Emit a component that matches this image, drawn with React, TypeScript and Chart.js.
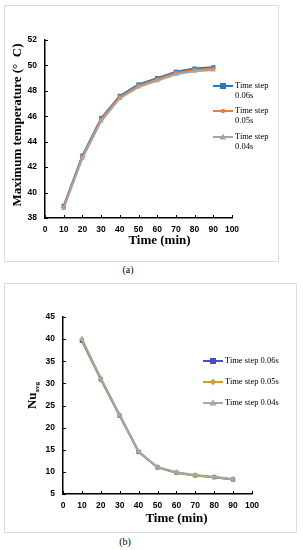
import React, { useEffect, useRef } from "react";
import { Chart, registerables } from "chart.js";

Chart.register(...registerables);

// ---------- data ----------
const TIME_MIN = [10, 20, 30, 40, 50, 60, 70, 80, 90];
const SERIES_LABELS = ["Time step 0.06s", "Time step 0.05s", "Time step 0.04s"];

const TEMP_STEP_006 = [38.95, 42.9, 45.85, 47.6, 48.5, 49.0, 49.5, 49.75, 49.85];
const TEMP_STEP_005 = [38.85, 42.8, 45.75, 47.5, 48.4, 48.9, 49.4, 49.65, 49.75];
const TEMP_STEP_004 = [38.75, 42.7, 45.6, 47.4, 48.3, 48.8, 49.3, 49.55, 49.65];

const NU_STEP_006 = [39.6, 30.9, 22.7, 14.5, 11.0, 9.8, 9.2, 8.8, 8.3];
const NU_STEP_005 = [39.8, 31.0, 22.8, 14.6, 11.0, 9.8, 9.2, 8.8, 8.3];
const NU_STEP_004 = [40.1, 31.2, 22.9, 14.6, 11.1, 9.9, 9.3, 8.9, 8.4];

const TEMP_Y_MIN = 38;
const TEMP_Y_MAX = 52;
const TEMP_Y_STEP = 2;
const NU_Y_MIN = 5;
const NU_Y_MAX = 45;
const NU_Y_STEP = 5;
const X_MIN = 0;
const X_MAX = 100;
const X_STEP = 10;

// ---------- helpers ----------
const toPoints = (ys: number[]) => TIME_MIN.map((x, i) => ({ x, y: ys[i] }));

function drawMarker(ctx: CanvasRenderingContext2D, style: string, x: number, y: number, r: number, color: string) {
  ctx.save();
  ctx.fillStyle = color;
  ctx.strokeStyle = color;
  ctx.beginPath();
  if (style === "rect") {
    ctx.rect(x - r, y - r, 2 * r, 2 * r);
  } else if (style === "rectRot") {
    ctx.moveTo(x, y - r * 1.3);
    ctx.lineTo(x + r * 1.3, y);
    ctx.lineTo(x, y + r * 1.3);
    ctx.lineTo(x - r * 1.3, y);
    ctx.closePath();
  } else if (style === "triangle") {
    ctx.moveTo(x, y - r * 1.2);
    ctx.lineTo(x + r * 1.1, y + r * 0.8);
    ctx.lineTo(x - r * 1.1, y + r * 0.8);
    ctx.closePath();
  } else {
    ctx.arc(x, y, r, 0, Math.PI * 2);
  }
  ctx.fill();
  ctx.restore();
}

const decorPlugin = {
  id: "decor",
  afterDraw(chart: any, _args: any, opts: any) {
    const ctx: CanvasRenderingContext2D = chart.ctx;
    const ca = chart.chartArea;
    const xs = chart.scales.x;
    const ys = chart.scales.y;
    ctx.save();
    // inner tick marks
    ctx.strokeStyle = "#000";
    ctx.lineWidth = 1;
    xs.ticks.forEach((t: any) => {
      const px = Math.round(xs.getPixelForValue(t.value)) + 0.5;
      ctx.beginPath();
      ctx.moveTo(px, ca.bottom);
      ctx.lineTo(px, ca.bottom - 3);
      ctx.stroke();
    });
    ys.ticks.forEach((t: any) => {
      const py = Math.round(ys.getPixelForValue(t.value)) + 0.5;
      ctx.beginPath();
      ctx.moveTo(ca.left, py);
      ctx.lineTo(ca.left + 3, py);
      ctx.stroke();
    });

    // x title
    ctx.fillStyle = "#000";
    ctx.font = 'bold 13px "Liberation Serif"';
    ctx.textAlign = "center";
    ctx.textBaseline = "middle";
    ctx.fillText(opts.xTitle, (ca.left + ca.right) / 2 + opts.xTitleShift, ca.bottom + opts.xTitleGap);

    // y title (rotated)
    ctx.save();
    ctx.translate(opts.yTitleX, (ca.top + ca.bottom) / 2 + opts.yTitleShift);
    ctx.rotate(-Math.PI / 2);
    ctx.textBaseline = "middle";
    ctx.font = `bold ${opts.yTitleSize}px "Liberation Serif"`;
    const mainW = ctx.measureText(opts.yTitle).width;
    let subW = 0;
    if (opts.yTitleSub) {
      ctx.font = 'bold 7px "Liberation Serif"';
      subW = ctx.measureText(opts.yTitleSub).width;
    }
    const total = mainW + subW;
    ctx.textAlign = "left";
    ctx.font = `bold ${opts.yTitleSize}px "Liberation Serif"`;
    ctx.fillText(opts.yTitle, -total / 2, 0);
    if (opts.yTitleSub) {
      ctx.font = 'bold 7px "Liberation Serif"';
      ctx.fillText(opts.yTitleSub, -total / 2 + mainW, 4);
    }
    ctx.restore();

    // legend
    chart.data.datasets.forEach((ds: any, i: number) => {
      const y = opts.legendY[i];
      const x0 = opts.legendLineX0;
      const x1 = opts.legendLineX1;
      ctx.strokeStyle = ds.borderColor;
      ctx.lineWidth = 2;
      ctx.beginPath();
      ctx.moveTo(x0, y);
      ctx.lineTo(x1, y);
      ctx.stroke();
      drawMarker(ctx, ds.pointStyle, (x0 + x1) / 2, y, ds.pointRadius, ds.pointBackgroundColor);
      ctx.fillStyle = "#000";
      ctx.font = '8.5px "Liberation Serif"';
      ctx.textAlign = "left";
      ctx.textBaseline = "middle";
      const lines: string[] = opts.legendLines[i];
      lines.forEach((ln, k) => ctx.fillText(ln, opts.legendTextX, y + k * 10));
    });
    ctx.restore();
  },
};

function makeDataset(label: string, ys: number[], color: string, pointStyle: string, r: number, order: number) {
  return {
    label,
    data: toPoints(ys),
    borderColor: color,
    backgroundColor: color,
    pointBackgroundColor: color,
    pointBorderColor: color,
    pointStyle,
    pointRadius: r,
    pointBorderWidth: 0,
    borderWidth: 2,
    tension: 0,
    order,
  };
}

function axisConfig(min: number, max: number, step: number, fixedSize: number, isX: boolean, padding: number) {
  return {
    type: "linear",
    min,
    max,
    ticks: {
      stepSize: step,
      color: "#000",
      padding,
      autoSkip: false,
      maxRotation: 0,
      minRotation: 0,
      font: { family: '"Liberation Sans"', size: 8.5, weight: "bold" },
    },
    grid: { display: false, drawTicks: false },
    border: { display: true, color: "#000", width: 1.5 },
    afterFit: (scale: any) => {
      if (isX) scale.height = fixedSize;
      else scale.width = fixedSize;
    },
  };
}

function ChartCanvas({ config, style }: { config: any; style: React.CSSProperties }) {
  const ref = useRef<HTMLCanvasElement | null>(null);
  useEffect(() => {
    if (!ref.current) return;
    const chart = new Chart(ref.current, config);
    return () => chart.destroy();
  }, [config]);
  return (
    <div style={{ position: "absolute", ...style }}>
      <canvas ref={ref} />
    </div>
  );
}

const tempConfig = {
  type: "line",
  data: {
    datasets: [
      makeDataset(SERIES_LABELS[0], TEMP_STEP_006, "#2e75b6", "rect", 3, 2),
      makeDataset(SERIES_LABELS[1], TEMP_STEP_005, "#ed7d31", "circle", 2.2, 1),
      makeDataset(SERIES_LABELS[2], TEMP_STEP_004, "#a5a5a5", "triangle", 3, 0),
    ],
  },
  options: {
    animation: false,
    responsive: true,
    maintainAspectRatio: false,
    layout: { padding: { left: 0, top: 34, right: 46, bottom: 0 } },
    scales: {
      x: axisConfig(X_MIN, X_MAX, X_STEP, 43, true, 7),
      y: axisConfig(TEMP_Y_MIN, TEMP_Y_MAX, TEMP_Y_STEP, 40, false, 8),
    },
    plugins: {
      legend: { display: false },
      tooltip: { enabled: false },
      decor: {
        xTitle: "Time (min)",
        xTitleShift: 21,
        xTitleGap: 23,
        yTitle: "Maximum temperature (°  C)",
        yTitleSub: "",
        yTitleSize: 13,
        yTitleX: 13,
        yTitleShift: -4,
        legendY: [80, 105, 131],
        legendLineX0: 208,
        legendLineX1: 228,
        legendTextX: 230,
        legendLines: [
          ["Time step", "0.06s"],
          ["Time step", "0.05s"],
          ["Time step", "0.04s"],
        ],
      },
    },
  },
  plugins: [decorPlugin],
};

const nuConfig = {
  type: "line",
  data: {
    datasets: [
      makeDataset(SERIES_LABELS[0], NU_STEP_006, "#4b4bc8", "rect", 3, 2),
      makeDataset(SERIES_LABELS[1], NU_STEP_005, "#c9a030", "rectRot", 2.5, 1),
      makeDataset(SERIES_LABELS[2], NU_STEP_004, "#a6a6a6", "triangle", 3.2, 0),
    ],
  },
  options: {
    animation: false,
    responsive: true,
    maintainAspectRatio: false,
    layout: { padding: { left: 0, top: 33, right: 44, bottom: 0 } },
    scales: {
      x: axisConfig(X_MIN, X_MAX, X_STEP, 38, true, 7),
      y: axisConfig(NU_Y_MIN, NU_Y_MAX, NU_Y_STEP, 58, false, 8),
    },
    plugins: {
      legend: { display: false },
      tooltip: { enabled: false },
      decor: {
        xTitle: "Time (min)",
        xTitleShift: 19,
        xTitleGap: 25,
        yTitle: "Nu",
        yTitleSub: "avg",
        yTitleSize: 13,
        yTitleX: 28,
        yTitleShift: -10,
        legendY: [77, 98, 119],
        legendLineX0: 198,
        legendLineX1: 218,
        legendTextX: 220,
        legendLines: [[SERIES_LABELS[0]], [SERIES_LABELS[1]], [SERIES_LABELS[2]]],
      },
    },
  },
  plugins: [decorPlugin],
};

const boxStyle: React.CSSProperties = {
  position: "absolute",
  border: "1px solid #dcdcdc",
  boxSizing: "border-box",
  background: "#fff",
};

const captionStyle: React.CSSProperties = {
  position: "absolute",
  width: 30,
  textAlign: "center",
  fontFamily: '"Liberation Serif"',
  fontSize: 10,
  lineHeight: "12px",
  color: "#000",
};

export default function App() {
  return (
    <div style={{ position: "absolute", left: 0, top: 0, width: 303, height: 550, background: "#fff" }}>
      <div style={{ ...boxStyle, left: 4, top: 5, width: 275, height: 257 }} />
      <ChartCanvas config={tempConfig} style={{ left: 5, top: 6, width: 273, height: 255 }} />
      <div style={{ ...captionStyle, left: 113, top: 264 }}>(a)</div>

      <div style={{ ...boxStyle, left: 4, top: 283, width: 293, height: 250 }} />
      <ChartCanvas config={nuConfig} style={{ left: 5, top: 284, width: 291, height: 248 }} />
      <div style={{ ...captionStyle, left: 110, top: 536 }}>(b)</div>
    </div>
  );
}
